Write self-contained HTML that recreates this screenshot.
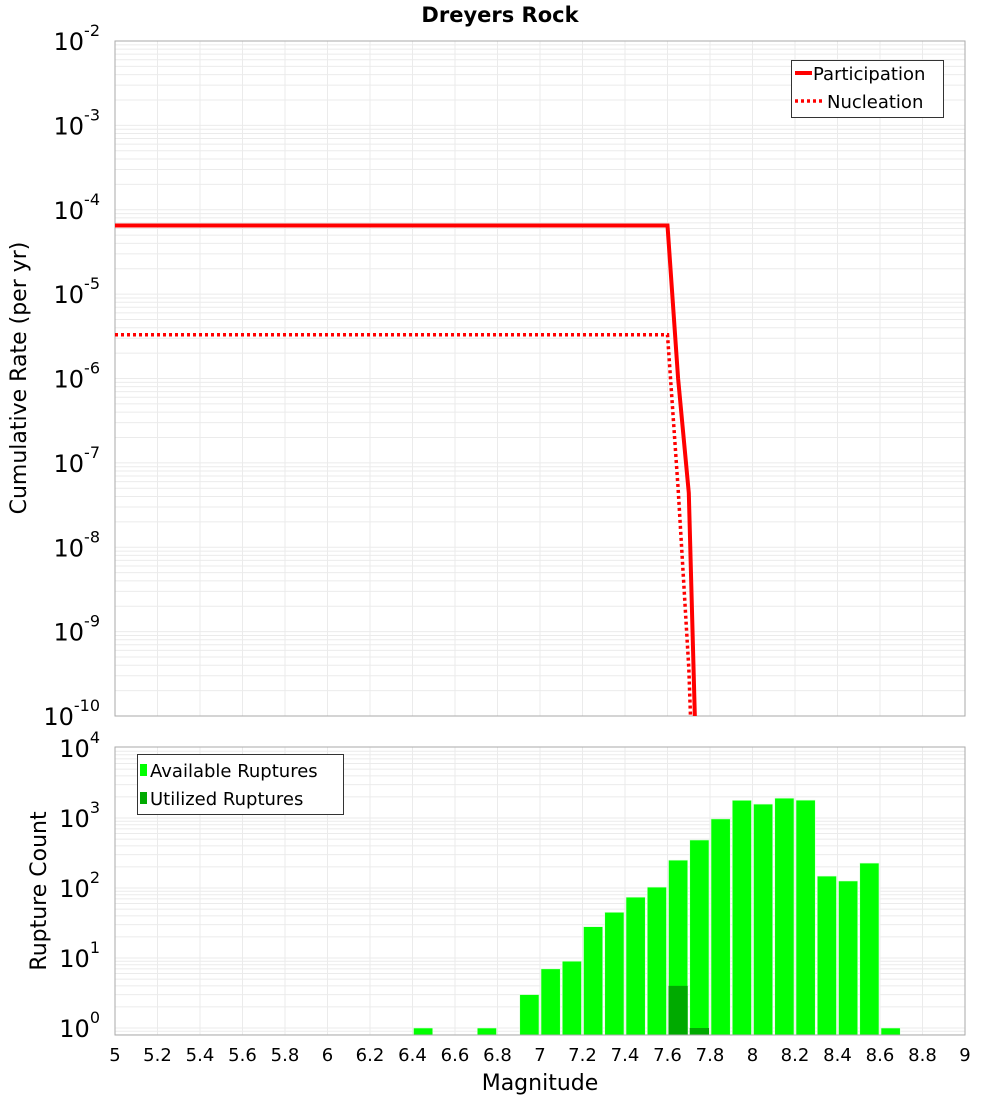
<!DOCTYPE html>
<html><head><meta charset="utf-8"><style>
body{margin:0;background:#fff}
svg{display:block;font-family:"DejaVu Sans","Liberation Sans",sans-serif}
</style></head><body>
<svg id="c" width="1000" height="1100" xmlns="http://www.w3.org/2000/svg"></svg>
<script>
// ---- data ----
const partMags = [5.0, 7.6, 7.65, 7.7, 7.75];
const partRates = [6.5e-5, 6.5e-5, 1.0e-6, 4.4e-8, 1e-12];
const nuclMags = [5.0, 7.6, 7.65, 7.7, 7.75];
const nuclRates = [3.3e-6, 3.3e-6, 5e-8, 3.7e-10, 1e-13];
const binStarts = [6.4, 6.7, 6.9, 7.0, 7.1, 7.2, 7.3, 7.4, 7.5, 7.6, 7.7, 7.8, 7.9, 8.0, 8.1, 8.2, 8.3, 8.4, 8.5, 8.6];
const availCounts = [1, 1, 3, 7, 9, 28, 45, 74, 103, 250, 485, 970, 1790, 1580, 1920, 1800, 148, 126, 227, 1];
const utilBins = [7.6, 7.7];
const utilCounts = [4, 1];
const xTicks = [5, 5.2, 5.4, 5.6, 5.8, 6, 6.2, 6.4, 6.6, 6.8, 7, 7.2, 7.4, 7.6, 7.8, 8, 8.2, 8.4, 8.6, 8.8, 9];
const topDecades = [-2, -3, -4, -5, -6, -7, -8, -9, -10];
const botDecades = [0, 1, 2, 3, 4];

const svg = document.getElementById('c');
const NS = 'http://www.w3.org/2000/svg';
function el(tag, attrs, parent) {
  const e = document.createElementNS(NS, tag);
  for (const k in attrs) e.setAttribute(k, attrs[k]);
  (parent || svg).appendChild(e);
  return e;
}
const L = 115, R = 965;
const xs = m => L + (m - 5) * (R - L) / 4;
const T1 = 41, B1 = 716;
const ys1 = v => T1 + (-2 - Math.log10(v)) * (B1 - T1) / 8;
const T2 = 747, B2 = 1035;
const ys2 = v => 1028 - 70 * Math.log10(v);

function grid(top, bot, ysf, dmin, dmax) {
  const g = el('g', {});
  
  
  for (let d = dmin; d <= dmax; d++) for (let k = 1; k < 10; k++) {
    const y = ysf(k * Math.pow(10, d));
    if (y < top || y > bot) continue;
    el('line', {x1: L, x2: R, y1: y, y2: y, stroke: '#ebebeb', 'stroke-width': 1}, g);
  }
  xTicks.forEach(t => el('line', {x1: xs(t), x2: xs(t), y1: top, y2: bot, stroke: '#ebebeb', 'stroke-width': 1}, g));
}
// title
const title = el('text', {x: 500, y: 22, 'text-anchor': 'middle', 'font-size': 21, 'font-weight': 'bold'});
title.textContent = 'Dreyers Rock';



// top panel
grid(T1, B1, ys1, -10, -3);
const f1 = el('rect', {x: L, y: T1, width: R - L, height: B1 - T1, fill: 'none', stroke: '#aaa', 'stroke-width': 1});


topDecades.forEach(d => {
  const y = ys1(Math.pow(10, d));
  const t = el('text', {x: 100, y: y + 9, 'text-anchor': 'end', 'font-size': 24});
  
  
  t.innerHTML = '10<tspan dy="-14" font-size="16">' + d + '</tspan>';
});
const yt1 = el('text', {x: 0, y: 0, transform: 'translate(26,378) rotate(-90)', 'text-anchor': 'middle', 'font-size': 22});
yt1.textContent = 'Cumulative Rate (per yr)';



const clip = el('clipPath', {id: 'cp1'});
el('rect', {x: L, y: T1, width: R - L, height: B1 - T1}, clip);
function pathOf(ms, vs) { return ms.map((m, i) => (i ? 'L' : 'M') + xs(m).toFixed(1) + ' ' + ys1(vs[i]).toFixed(1)).join(' '); }
const pl = el('path', {d: pathOf(partMags, partRates), fill: 'none', stroke: '#ff0000', 'stroke-width': 4, 'clip-path': 'url(#cp1)'});


const nl = el('path', {d: pathOf(nuclMags, nuclRates), fill: 'none', stroke: '#ff0000', 'stroke-width': 3.5, 'stroke-dasharray': '3 3', 'clip-path': 'url(#cp1)'});



const lg1 = el('g', {});


el('rect', {x: 791.5, y: 60.5, width: 152, height: 57, fill: '#fff', stroke: '#333', 'stroke-width': 1}, lg1);
el('line', {x1: 795, x2: 812, y1: 73, y2: 73, stroke: '#f00', 'stroke-width': 4}, lg1);
el('line', {x1: 795, x2: 822, y1: 101, y2: 101, stroke: '#f00', 'stroke-width': 3.5, 'stroke-dasharray': '3 3'}, lg1);
const lt1 = el('text', {x: 813, y: 80, 'font-size': 18}, lg1); lt1.textContent = 'Participation';
const lt2 = el('text', {x: 827, y: 108, 'font-size': 18}, lg1); lt2.textContent = 'Nucleation';

// bottom panel
grid(T2, B2, ys2, -1, 3);
const bw = 0.1 * (R - L) / 4;
binStarts.forEach((b, i) => {
  const y = ys2(availCounts[i]);
  const r = el('rect', {x: xs(b) + 1, y: y, width: bw - 2, height: B2 - y, fill: '#00ff00', stroke: '#ddffdd', 'stroke-width': 0.6});
  
  
});
utilBins.forEach((b, i) => {
  const y = ys2(utilCounts[i]);
  const r = el('rect', {x: xs(b) + 1, y: y, width: bw - 2, height: B2 - y, fill: '#00aa00'});
  
  
});
const f2 = el('rect', {x: L, y: T2, width: R - L, height: B2 - T2, fill: 'none', stroke: '#aaa', 'stroke-width': 1});


botDecades.forEach(d => {
  const y = ys2(Math.pow(10, d));
  const t = el('text', {x: 100, y: y + 9, 'text-anchor': 'end', 'font-size': 24});
  
  
  t.innerHTML = '10<tspan dy="-14" font-size="16">' + d + '</tspan>';
});
xTicks.forEach(v => {
  const t = el('text', {x: xs(v), y: 1061, 'text-anchor': 'middle', 'font-size': 18});
  t.textContent = String(v);
  
  
});
const xt = el('text', {x: 540, y: 1090, 'text-anchor': 'middle', 'font-size': 22});
xt.textContent = 'Magnitude';


const yt2 = el('text', {x: 0, y: 0, transform: 'translate(46,891) rotate(-90)', 'text-anchor': 'middle', 'font-size': 22});
yt2.textContent = 'Rupture Count';



const lg2 = el('g', {});


el('rect', {x: 137.5, y: 754.5, width: 206, height: 60, fill: '#fff', stroke: '#333', 'stroke-width': 1}, lg2);
el('rect', {x: 140, y: 764, width: 7, height: 12, fill: '#00ff00'}, lg2);
el('rect', {x: 140, y: 792, width: 7, height: 12, fill: '#00aa00'}, lg2);
const l3 = el('text', {x: 150, y: 777, 'font-size': 18}, lg2); l3.textContent = 'Available Ruptures';
const l4 = el('text', {x: 150, y: 805, 'font-size': 18}, lg2); l4.textContent = 'Utilized Ruptures';
</script>
</body></html>
